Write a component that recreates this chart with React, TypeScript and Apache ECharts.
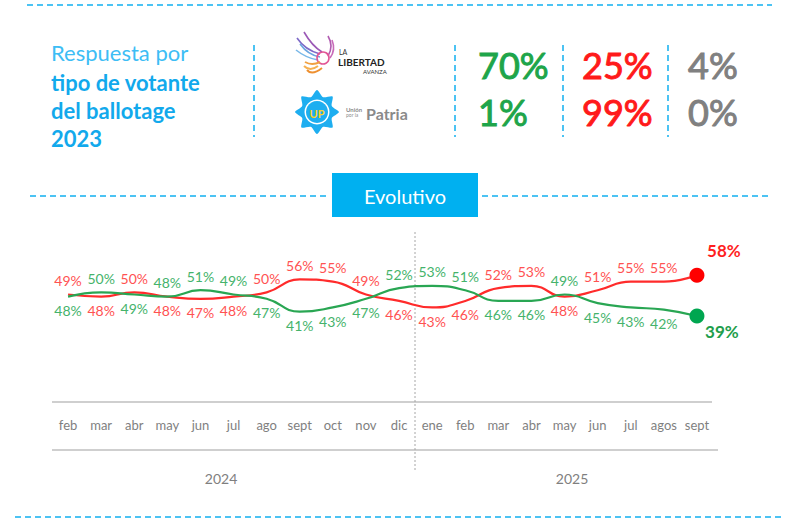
import React, { useEffect, useRef } from "react";
import * as echarts from "echarts";

const months = ["feb", "mar", "abr", "may", "jun", "jul", "ago", "sept", "oct", "nov", "dic", "ene", "feb", "mar", "abr", "may", "jun", "jul", "agos", "sept"];
const years = ["2024", "2025"];
const redSeries = [49, 48, 50, 48, 47, 48, 50, 56, 55, 49, 46, 43, 46, 52, 53, 48, 51, 55, 55, 58];
const greenSeries = [48, 50, 49, 48, 51, 49, 47, 41, 43, 47, 52, 53, 51, 46, 46, 49, 45, 43, 42, 39];
const llaRow = [70, 25, 4];
const upRow = [1, 99, 0];
const titleLines = ["Respuesta por", "tipo de votante", "del ballotage", "2023"];

const FONT = "Lato, 'Liberation Sans', sans-serif";
const CYAN = "#4cc3f3";
const RED = "#ff2b2b";
const GREEN = "#29a653";
const RED_LBL = "#ff5252";
const GREEN_LBL = "#45b36b";
const GRAY = "#7f7f7f";
const numColors = ["#1ea54a", "#ff1a1a", "#808080"];

function buildData(values: number[], other: number[], isRed: boolean, lblColor: string, boldColor: string) {
  const last = values.length - 1;
  return values.map((v, i) => {
    const top = isRed ? v > other[i] : v >= other[i];
    if (i === last) {
      return {
        value: v,
        label: {
          show: true,
          position: top ? "top" : "bottom",
          distance: 5,
          offset: top ? [27, -4] : [25, -6],
          fontSize: 17,
          fontWeight: "bold",
          color: boldColor,
        },
      };
    }
    return {
      value: v,
      label: { position: top ? "top" : "bottom", color: lblColor },
    };
  });
}

function dashedH(x1: number, x2: number, y: number) {
  return {
    type: "line",
    shape: { x1, y1: y, x2, y2: y },
    style: { stroke: CYAN, lineWidth: 2, lineDash: [6, 4] },
    silent: true,
  };
}
function dashedV(x: number, y1: number, y2: number) {
  return {
    type: "line",
    shape: { x1: x, y1, x2: x, y2 },
    style: { stroke: CYAN, lineWidth: 2, lineDash: [6, 4] },
    silent: true,
  };
}

function starPoints(cx: number, cy: number, R: number, r: number, n: number) {
  const pts: number[][] = [];
  for (let i = 0; i < n * 2; i++) {
    const a = (Math.PI * i) / n - Math.PI / 2;
    const rad = i % 2 === 0 ? R : r;
    pts.push([cx + rad * Math.cos(a), cy + rad * Math.sin(a)]);
  }
  return pts;
}

function curve(x1: number, y1: number, cpx1: number, cpy1: number, x2: number, y2: number, color: string, w = 1.6) {
  return {
    type: "bezierCurve",
    shape: { x1, y1, cpx1, cpy1, x2, y2 },
    style: { stroke: color, lineWidth: w, fill: null },
    silent: true,
  };
}

export default function App() {
  const ref = useRef<HTMLDivElement>(null);

  useEffect(() => {
    document.body.style.margin = "0";
    const chart = echarts.init(ref.current as HTMLDivElement, null, { renderer: "svg" });

    const graphics: any[] = [];
    // frame dashed lines
    graphics.push(dashedH(27, 772, 5));
    graphics.push(dashedH(30, 328, 196));
    graphics.push(dashedH(482, 772, 196));
    graphics.push(dashedH(15, 785, 517));
    [254, 455, 563, 668].forEach((x) => graphics.push(dashedV(x, 45, 137)));

    // title
    const titleY = [52, 82, 110, 138];
    titleLines.forEach((t, i) => {
      graphics.push({
        type: "text",
        x: 51,
        y: titleY[i],
        style: {
          text: t,
          font: `${i === 0 ? "normal" : "bold"} 22px ${FONT}`,
          fill: i === 0 ? "#3dbdf5" : "#12a9ec",
          textVerticalAlign: "middle",
        },
        silent: true,
      });
    });

    // LLA logo (approximation)
    graphics.push(curve(297, 38, 305, 50, 320, 54, "#7e6ac8"));
    graphics.push(curve(300, 44, 308, 55, 320, 57, "#6aa6e0"));
    graphics.push(curve(304, 32, 312, 46, 322, 52, "#9b59b6"));
    graphics.push(curve(296, 50, 306, 58, 318, 60, "#79b8e8"));
    graphics.push(curve(328, 36, 334, 46, 328, 56, "#b05bb0"));
    graphics.push(curve(332, 40, 336, 50, 330, 58, "#c86ab8"));
    graphics.push({
      type: "circle",
      shape: { cx: 323, cy: 58, r: 6 },
      style: { stroke: "#e25595", lineWidth: 1.6, fill: null },
      silent: true,
    });
    graphics.push(curve(305, 62, 312, 66, 320, 62, "#f0a040", 2));
    graphics.push(curve(304, 66, 310, 72, 318, 66, "#f5b050", 2));
    graphics.push(curve(307, 70, 312, 76, 322, 68, "#ee9030", 2));
    graphics.push({
      type: "text",
      x: 339,
      y: 52,
      style: { text: "LA", font: `normal 7px ${FONT}`, fill: "#333", textVerticalAlign: "middle" },
      silent: true,
    });
    graphics.push({
      type: "text",
      x: 338,
      y: 62,
      style: { text: "LIBERTAD", font: `bold 10px ${FONT}`, fill: "#222", textVerticalAlign: "middle" },
      silent: true,
    });
    graphics.push({
      type: "text",
      x: 363,
      y: 71,
      style: { text: "AVANZA", font: `normal 6px ${FONT}`, fill: "#333", textVerticalAlign: "middle" },
      silent: true,
    });

    // UP logo (approximation)
    graphics.push({
      type: "polygon",
      shape: { points: starPoints(317, 112, 22, 16, 8), smooth: 0.25 },
      style: { fill: "#1eaef0" },
      silent: true,
    });
    graphics.push({
      type: "circle",
      shape: { cx: 317, cy: 112, r: 12.5 },
      style: { fill: "#ffffff" },
      silent: true,
    });
    graphics.push({
      type: "circle",
      shape: { cx: 317, cy: 112, r: 11 },
      style: { fill: "#1eaef0" },
      silent: true,
    });
    graphics.push({
      type: "text",
      x: 317,
      y: 113,
      style: { text: "UP", font: `bold 11px ${FONT}`, fill: "#ffd21f", textAlign: "center", textVerticalAlign: "middle" },
      silent: true,
    });
    graphics.push({
      type: "text",
      x: 346,
      y: 109,
      style: { text: "Unión", font: `bold 6px ${FONT}`, fill: "#8a8a8a", textVerticalAlign: "middle" },
      silent: true,
    });
    graphics.push({
      type: "text",
      x: 346,
      y: 115,
      style: { text: "por la", font: `normal 5px ${FONT}`, fill: "#8a8a8a", textVerticalAlign: "middle" },
      silent: true,
    });
    graphics.push({
      type: "text",
      x: 366,
      y: 113,
      style: { text: "Patria", font: `bold 16px ${FONT}`, fill: "#8a8a8a", textVerticalAlign: "middle" },
      silent: true,
    });

    // numbers
    const colX = [478, 582, 688];
    [llaRow, upRow].forEach((row, r) => {
      row.forEach((v, c) => {
        graphics.push({
          type: "text",
          x: colX[c],
          y: r === 0 ? 65 : 112,
          style: {
            text: `${v}%`,
            font: `normal 36px ${FONT}`,
            fill: numColors[c],
            stroke: numColors[c],
            lineWidth: 1,
            textVerticalAlign: "middle",
          },
          silent: true,
        });
      });
    });

    // Evolutivo box
    graphics.push({
      type: "rect",
      shape: { x: 332, y: 173, width: 146, height: 44 },
      style: { fill: "#00b0f0" },
      silent: true,
    });
    graphics.push({
      type: "text",
      x: 405,
      y: 196,
      style: { text: "Evolutivo", font: `normal 20px ${FONT}`, fill: "#ffffff", textAlign: "center", textVerticalAlign: "middle" },
      silent: true,
    });

    // axis table lines
    graphics.push({
      type: "line",
      shape: { x1: 52, y1: 402, x2: 712, y2: 402 },
      style: { stroke: "#bfbfbf", lineWidth: 1.5 },
      silent: true,
    });
    graphics.push({
      type: "line",
      shape: { x1: 52, y1: 450, x2: 718, y2: 450 },
      style: { stroke: "#bfbfbf", lineWidth: 1.5 },
      silent: true,
    });
    graphics.push({
      type: "line",
      shape: { x1: 415, y1: 232, x2: 415, y2: 470 },
      style: { stroke: "#a6a6a6", lineWidth: 1, lineDash: [2, 2] },
      silent: true,
    });
    const yearX = [221, 572];
    years.forEach((y, i) => {
      graphics.push({
        type: "text",
        x: yearX[i],
        y: 478,
        style: { text: y, font: `normal 14px ${FONT}`, fill: GRAY, textAlign: "center", textVerticalAlign: "middle" },
        silent: true,
      });
    });

    const last = redSeries.length - 1;
    const option: any = {
      animation: false,
      backgroundColor: "#ffffff",
      grid: { left: 51.5, right: 86.5, top: 187, bottom: 120 },
      xAxis: {
        type: "category",
        data: months.map((m, i) => `${m}_${i}`),
        boundaryGap: true,
        axisLine: { show: false },
        axisTick: { show: false },
        splitLine: { show: false },
        axisLabel: {
          color: GRAY,
          fontSize: 13,
          fontFamily: FONT,
          margin: 16,
          interval: 0,
          formatter: (_v: string, idx: number) => months[idx],
        },
      },
      yAxis: { type: "value", min: -1, max: 99, show: false },
      graphic: graphics,
      series: [
        {
          type: "line",
          name: "rojo",
          smooth: 0.5,
          data: buildData(redSeries, greenSeries, true, RED_LBL, "#ff1f1f"),
          lineStyle: { color: RED, width: 2.2 },
          itemStyle: { color: "#ff0000" },
          symbol: "circle",
          showAllSymbol: true,
          symbolSize: (_v: any, p: any) => (p.dataIndex === last ? 15 : 0),
          label: {
            show: true,
            formatter: "{c}%",
            fontSize: 14,
            fontFamily: FONT,
            distance: 7,
          },
          z: 3,
        },
        {
          type: "line",
          name: "verde",
          smooth: 0.5,
          data: buildData(greenSeries, redSeries, false, GREEN_LBL, "#1f9e4c"),
          lineStyle: { color: GREEN, width: 2.2 },
          itemStyle: { color: "#00a650" },
          symbol: "circle",
          showAllSymbol: true,
          symbolSize: (_v: any, p: any) => (p.dataIndex === last ? 15 : 0),
          label: {
            show: true,
            formatter: "{c}%",
            fontSize: 14,
            fontFamily: FONT,
            distance: 7,
          },
          z: 3,
        },
      ],
    };
    chart.setOption(option);
    return () => chart.dispose();
  }, []);

  return <div ref={ref} style={{ width: 800, height: 522 }} />;
}
